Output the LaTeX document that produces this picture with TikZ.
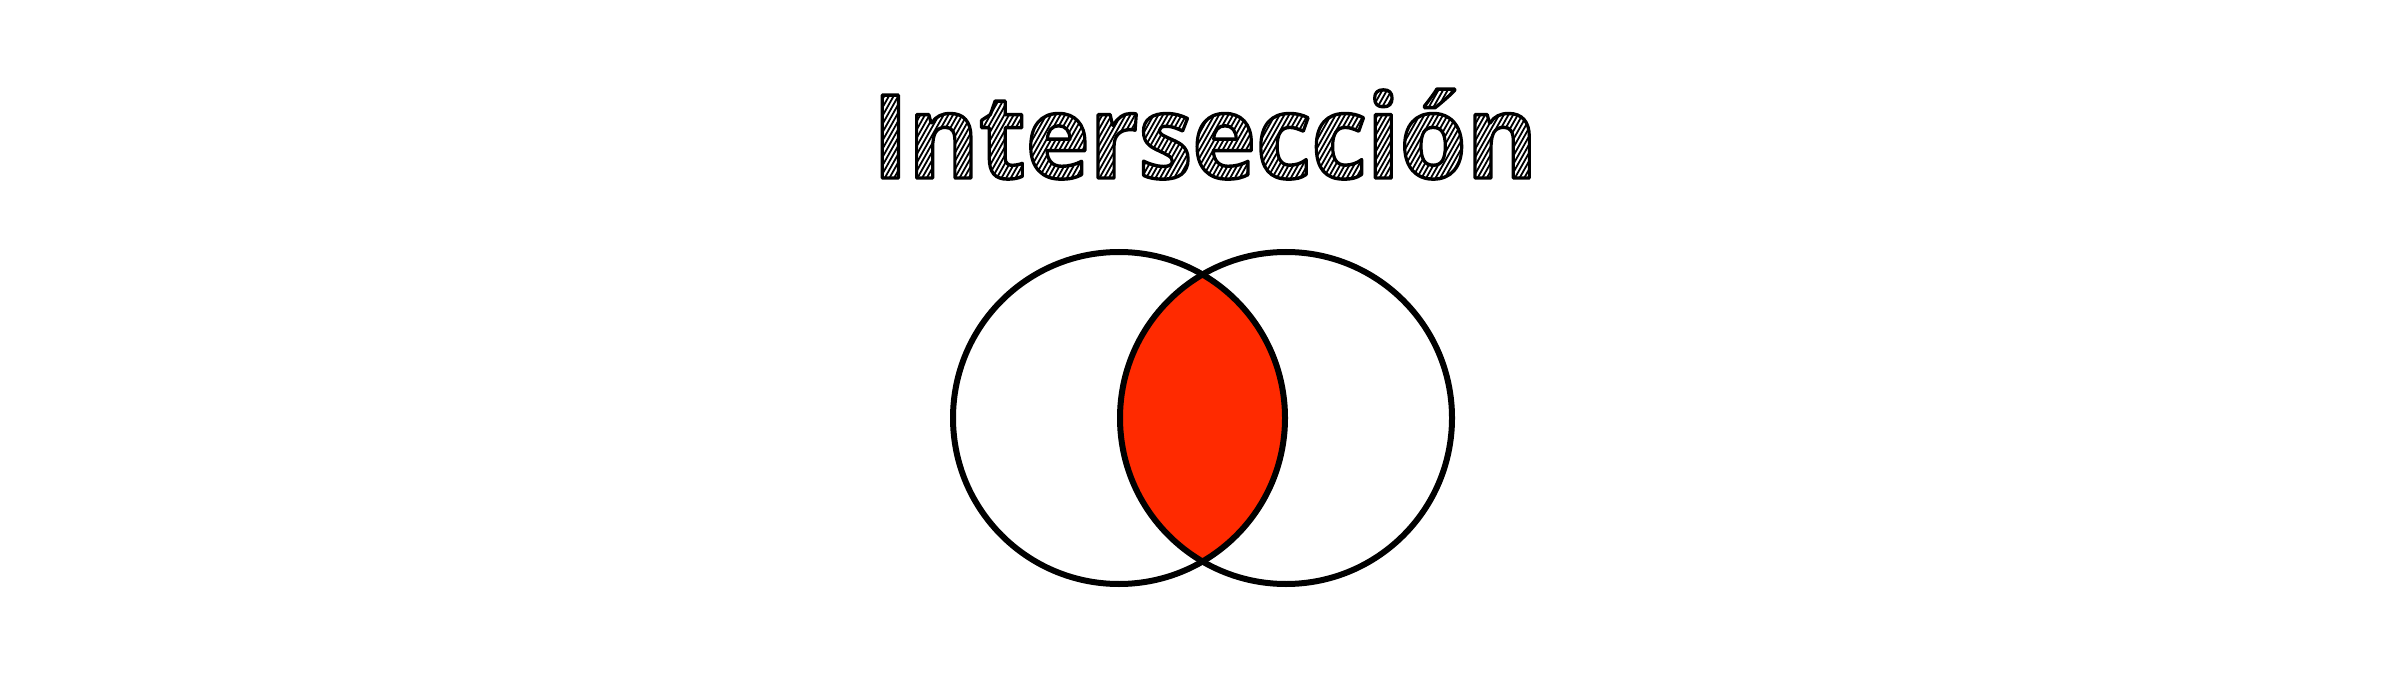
\documentclass[tikz,border=0pt]{standalone}
\usepackage{fontspec}
\newfontfamily\titlefont{Open Sans}
\definecolor{lensred}{RGB}{255,42,0}
\tikzset{ring/.style={draw=black, line width=6pt}}
% hatch strokes for the sketchy title fill
\newcount\hatchx
\def\hatchstr{}
\hatchx=-120
\loop
  \edef\hatchstr{\hatchstr\space\the\hatchx\space -30 m \the\numexpr\hatchx+100\relax\space 135 l}
  \advance\hatchx by 5
\ifnum\hatchx<740 \repeat
\newcommand\sketchtext[1]{%
  \special{pdf:literal direct q 7 Tr}\rlap{#1}\special{pdf:literal direct 0 Tr}%
  \special{pdf:literal 0 G 1.9 w 1 J\hatchstr\space S}%
  \special{pdf:literal direct Q}%
  \special{pdf:literal direct 0 G 1 j 3.4 w 1 Tr}#1\special{pdf:literal direct 0 Tr}}
\begin{document}
\begin{tikzpicture}[x=1pt,y=-1pt]
\useasboundingbox (0,0) rectangle (2400,700);
\coordinate (cA) at (1119,418);
\coordinate (cB) at (1286,418);
\begin{scope}
\clip (cA) circle[radius=166];
\fill[lensred] (cB) circle[radius=166];
\end{scope}
\draw[ring] (cA) circle[radius=166];
\draw[ring] (cB) circle[radius=166];
\node[anchor=base, inner sep=0pt] (title) at (1205,178) {\scalebox{0.93}[1]{\titlefont\bfseries\fontsize{116}{120}\selectfont\sketchtext{Intersección}}};
\end{tikzpicture}
\end{document}
